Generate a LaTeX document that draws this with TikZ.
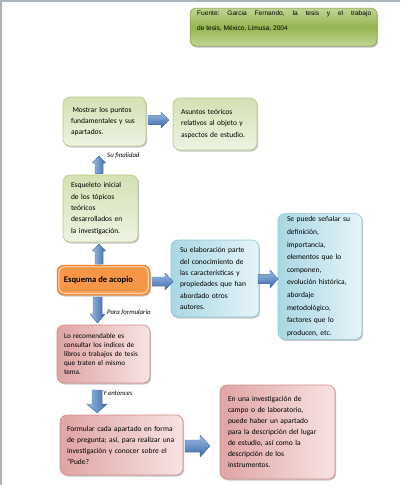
\documentclass[tikz,border=0pt]{standalone}
\usepackage{fontspec}
\setmainfont{Carlito}
\newfontfamily\arialfont{Liberation Sans}
\usetikzlibrary{shadows}
\definecolor{frame}{HTML}{AAB2BC}
\definecolor{gtop}{HTML}{D3E1B4}
\definecolor{gbot}{HTML}{EEF3E2}
\definecolor{gline}{HTML}{B5C98A}
\definecolor{btop}{HTML}{A9D7E4}
\definecolor{bbot}{HTML}{E6F4F8}
\definecolor{bline}{HTML}{8CC6D8}
\definecolor{ptop}{HTML}{DFA4A3}
\definecolor{pbot}{HTML}{F7E4E3}
\definecolor{pline}{HTML}{D08A88}
\definecolor{olive}{HTML}{94B550}
\definecolor{olivel}{HTML}{C0D596}
\definecolor{oliveline}{HTML}{7E9C40}
\definecolor{orange}{HTML}{F79646}
\definecolor{orangerim}{HTML}{FCD3B0}
\definecolor{orangeline}{HTML}{E46C0A}
\definecolor{arrdark}{HTML}{3B68A8}
\definecolor{arrlight}{HTML}{9DBDE3}
\definecolor{arrline}{HTML}{4A76B4}
\newcommand\rarr[6]{% x1 x2 yc shafthalf headhalf headlen
  \fill[top color=arrlight,bottom color=arrdark,draw=arrline,line width=0.3pt]
   (#1,{#3-#4}) -- ({#2-#6},{#3-#4}) -- ({#2-#6},{#3-#5}) -- (#2,#3) --
   ({#2-#6},{#3+#5}) -- ({#2-#6},{#3+#4}) -- (#1,{#3+#4}) -- cycle;}
\newcommand\varr[6]{% xc ybase ytip shafthalf headhalf headlen(signed toward base)
  \fill[left color=arrlight,right color=arrdark,draw=arrline,line width=0.3pt]
   ({#1-#4},#2) -- ({#1-#4},{#3+#6}) -- ({#1-#5},{#3+#6}) -- (#1,#3) --
   ({#1+#5},{#3+#6}) -- ({#1+#4},{#3+#6}) -- ({#1+#4},#2) -- cycle;}
\begin{document}
\begin{tikzpicture}[x=1pt,y=-1pt,
  boxbase/.style={rounded corners=7pt,inner xsep=8pt,inner ysep=3pt,align=left,
    font=\fontsize{7.5}{11.3}\selectfont,line width=0.6pt,
    drop shadow={shadow xshift=1.2pt,shadow yshift=-1.5pt,opacity=0.22,fill=black}},
  gbox/.style={boxbase,top color=gtop,bottom color=gbot,draw=gline},
  bbox/.style={boxbase,shading angle=135,left color=btop,right color=bbot,draw=bline},
  pbox/.style={boxbase,shading angle=135,left color=ptop,right color=pbot,draw=pline},
  lbl/.style={anchor=west,inner sep=0pt,font=\fontsize{6.8}{7}\selectfont\itshape}]
\useasboundingbox (0,0) rectangle (400,485);
\fill[frame] (0,0) rectangle (400,1.5);
\fill[frame] (0,0) rectangle (1.5,485);

% Fuente
\node[rounded corners=6pt,draw=oliveline,line width=0.5pt,
  top color=olivel,bottom color=olivel,middle color=olive,
  minimum width=187pt,minimum height=38pt,inner sep=0pt,
  drop shadow={shadow xshift=1pt,shadow yshift=-1.5pt,opacity=0.25,fill=black}]
  (fuente) at (283.5,27) {};
\node[inner sep=0pt,align=left,font=\arialfont\fontsize{6.6}{15}\selectfont,anchor=north west]
  (fuentetxt) at (197,11) {\hbox to 174pt{Fuente:\hfill Garcia\hfill Fernando,\hfill la\hfill tesis\hfill y\hfill el\hfill trabajo}\\de tesis, México, Limusa, 2004};

% green boxes
\node[gbox,minimum width=83pt,minimum height=49pt,text width=67pt] (mostrar) at (104.5,121.5)
  {\hspace{1.5pt}Mostrar los puntos\\fundamentales y sus\\apartados.};
\node[gbox,minimum width=84pt,minimum height=52pt,text width=68pt] (asuntos) at (215,124)
  {Asuntos teóricos\\relativos al objeto y\\aspectos de estudio.};
\node[gbox,minimum width=75pt,minimum height=67pt,text width=59pt] (esqueleto) at (100.5,208.5)
  {Esqueleto inicial\\de los tópicos\\teóricos\\desarrollados en\\la investigación.};

% orange box
\node[rounded corners=7pt,fill=orange,draw=orangeline,line width=0.5pt,
  minimum width=93pt,minimum height=30pt,inner sep=0pt,
  font=\fontsize{8.6}{10}\selectfont\bfseries,
  drop shadow={shadow xshift=1pt,shadow yshift=-1.5pt,opacity=0.22,fill=black}]
  (esquema) at (103.5,280) {\hspace*{-10pt}Esquema de acopio};
\draw[orangerim,line width=1.1pt,rounded corners=6pt] (58.8,266.8) rectangle (148.2,293.2);

% blue boxes
\node[bbox,minimum width=86pt,minimum height=77pt,text width=70pt,inner xsep=9pt] (elab) at (215,278.5)
  {Su elaboración parte\\del conocimiento de\\las características y\\propiedades que han\\abordado otros\\autores.};
\node[bbox,minimum width=84pt,minimum height=123pt,text width=66pt,inner xsep=9pt,
  font=\fontsize{7.5}{12.6}\selectfont] (sepuede) at (320,276.5)
  {Se puede señalar su\\definición,\\importancia,\\elementos que lo\\componen,\\evolución histórica,\\abordaje\\metodológico,\\factores que lo\\producen, etc.};

% pink boxes
\node[pbox,minimum width=93pt,minimum height=58pt,text width=79pt,inner xsep=7pt,
  font=\fontsize{7.2}{9}\selectfont] (recom) at (103.5,354)
  {Lo recomendable es\\consultar los indices de\\libros o trabajos de tesis\\que traten el mismo\\tema.};
\node[pbox,minimum width=123pt,minimum height=60pt,text width=109pt,inner xsep=7pt,
  font=\fontsize{7.5}{11}\selectfont] (formular) at (121.5,445)
  {Formular cada apartado en forma\\de pregunta; así, para realizar una\\investigación y conocer sobre el\\“Pude?\\[3pt]};
\node[pbox,minimum width=115pt,minimum height=94pt,text width=99pt,
  font=\fontsize{7.5}{11}\selectfont] (enuna) at (277.5,432)
  {En una investigación de\\campo o de laboratorio,\\puede haber un apartado\\para la descripción del lugar\\de estudio, así como la\\descripción de los\\instrumentos.\\[6pt]};

% block arrows
\rarr{148}{169}{120}{4.5}{8}{8}
\varr{99}{173.5}{156}{4}{6.5}{7}
\varr{99}{264}{244}{4}{6.5}{7}
\rarr{152}{173}{281.5}{4.5}{8.5}{8}
\rarr{258}{278}{279}{4.5}{9}{8}
\varr{97.5}{297}{323}{4.5}{7.5}{-9}
\varr{97}{390}{413}{5}{10}{-9}
\rarr{185}{210}{446}{6}{11}{10}

% labels
\node[lbl] (lfin) at (107,156) {Su finalidad};
\node[lbl] (lform) at (107,313) {Para formulario};
\node[lbl] (lent) at (103,393) {Y entonces};
\end{tikzpicture}
\end{document}
